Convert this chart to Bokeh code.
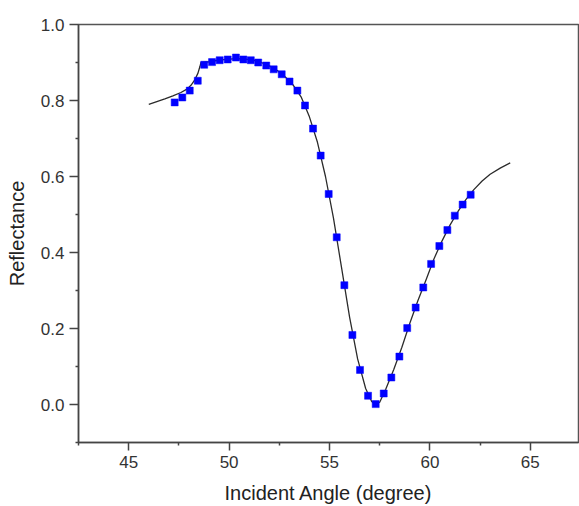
from bokeh.plotting import figure
from bokeh.models import Range1d, FixedTicker, NumeralTickFormatter
from bokeh.embed import file_html
from bokeh.resources import INLINE

# measured data (incident angle in degree, reflectance)
meas_angle = [47.29, 47.67, 48.04, 48.44, 48.76, 49.15, 49.53, 49.93, 50.34, 50.71,
              51.08, 51.45, 51.85, 52.22, 52.62, 53.01, 53.40, 53.78, 54.18, 54.56,
              54.96, 55.36, 55.74, 56.14, 56.52, 56.92, 57.30, 57.70, 58.08, 58.48,
              58.87, 59.29, 59.67, 60.06, 60.47, 60.87, 61.24, 61.63, 62.03]
meas_refl = [0.795, 0.808, 0.826, 0.852, 0.894, 0.901, 0.906, 0.908, 0.913, 0.908,
             0.906, 0.900, 0.892, 0.882, 0.869, 0.850, 0.826, 0.787, 0.726, 0.655,
             0.554, 0.440, 0.314, 0.183, 0.091, 0.023, 0.001, 0.029, 0.071, 0.126,
             0.201, 0.255, 0.308, 0.370, 0.417, 0.459, 0.497, 0.526, 0.552]

# fitted curve
fit_angle = [46.0, 46.4, 46.8, 47.2, 47.6, 47.9, 48.1, 48.3, 48.45, 48.55, 48.6,
             49.0, 49.5, 50.0, 50.4, 50.8, 51.2, 51.6, 52.0, 52.4, 52.8, 53.2, 53.6,
             54.0, 54.4, 54.8, 55.2, 55.6, 56.0, 56.4, 56.8, 57.1, 57.3, 57.5, 57.8,
             58.2, 58.6, 59.0, 59.4, 59.8, 60.2, 60.6, 61.0, 61.4, 61.8, 62.2, 62.6,
             63.0, 63.5, 64.0]
fit_refl = [0.790, 0.797, 0.804, 0.812, 0.821, 0.830, 0.840, 0.855, 0.872, 0.890, 0.900,
            0.902, 0.906, 0.909, 0.910, 0.909, 0.906, 0.900, 0.891, 0.879, 0.862, 0.840,
            0.808, 0.757, 0.690, 0.600, 0.490, 0.360, 0.230, 0.120, 0.042, 0.008, 0.000,
            0.006, 0.040, 0.092, 0.150, 0.214, 0.273, 0.327, 0.383, 0.430, 0.472, 0.508,
            0.540, 0.566, 0.588, 0.606, 0.622, 0.636]

x_major = [45, 50, 55, 60, 65]
x_minor = [42.5, 47.5, 52.5, 57.5, 62.5]
y_major = [0.0, 0.2, 0.4, 0.6, 0.8, 1.0]
y_minor = [-0.1, 0.1, 0.3, 0.5, 0.7, 0.9]

p = figure(width=579, height=506, output_backend="svg", toolbar_location=None,
           x_range=Range1d(42.5, 67.4), y_range=Range1d(-0.1, 1.0),
           min_border_left=78, min_border_right=1, min_border_top=24, min_border_bottom=64,
           background_fill_color="white", border_fill_color="white")

p.line(fit_angle, fit_refl, line_color="#2b2b2b", line_width=1.3)
p.scatter(meas_angle, meas_refl, marker="square", size=7, fill_color="#0000ff",
          line_color="#0000ff", line_width=0.5)

p.xgrid.visible = False
p.ygrid.visible = False
p.outline_line_color = "#555555"
p.outline_line_width = 1.5

p.xaxis.ticker = FixedTicker(ticks=x_major, minor_ticks=x_minor)
p.yaxis.ticker = FixedTicker(ticks=y_major, minor_ticks=y_minor)
p.xaxis.formatter = NumeralTickFormatter(format="0")
p.yaxis.formatter = NumeralTickFormatter(format="0.0")

for ax in (p.xaxis, p.yaxis):
    ax.axis_line_color = "#444444"
    ax.axis_line_width = 1.5
    ax.major_tick_line_color = "#444444"
    ax.minor_tick_line_color = "#444444"
    ax.major_tick_line_width = 1.5
    ax.minor_tick_line_width = 1.5
    ax.major_tick_in = 0
    ax.minor_tick_in = 0
    ax.minor_tick_out = 3
    ax.major_label_text_font = "Liberation Sans"
    ax.major_label_text_font_size = "17px"
    ax.major_label_text_color = "#333333"
    ax.axis_label_text_font = "Liberation Sans"
    ax.axis_label_text_font_size = "20px"
    ax.axis_label_text_font_style = "normal"
    ax.axis_label_text_color = "#222222"

p.xaxis.major_tick_out = 8
p.yaxis.major_tick_out = 9
p.xaxis.major_label_standoff = 5
p.yaxis.major_label_standoff = 5
p.xaxis.axis_label = "Incident Angle (degree)"
p.yaxis.axis_label = "Reflectance"
p.xaxis.axis_label_standoff = 11
p.yaxis.axis_label_standoff = 10

open("out.html", "w").write(file_html(p, INLINE))
